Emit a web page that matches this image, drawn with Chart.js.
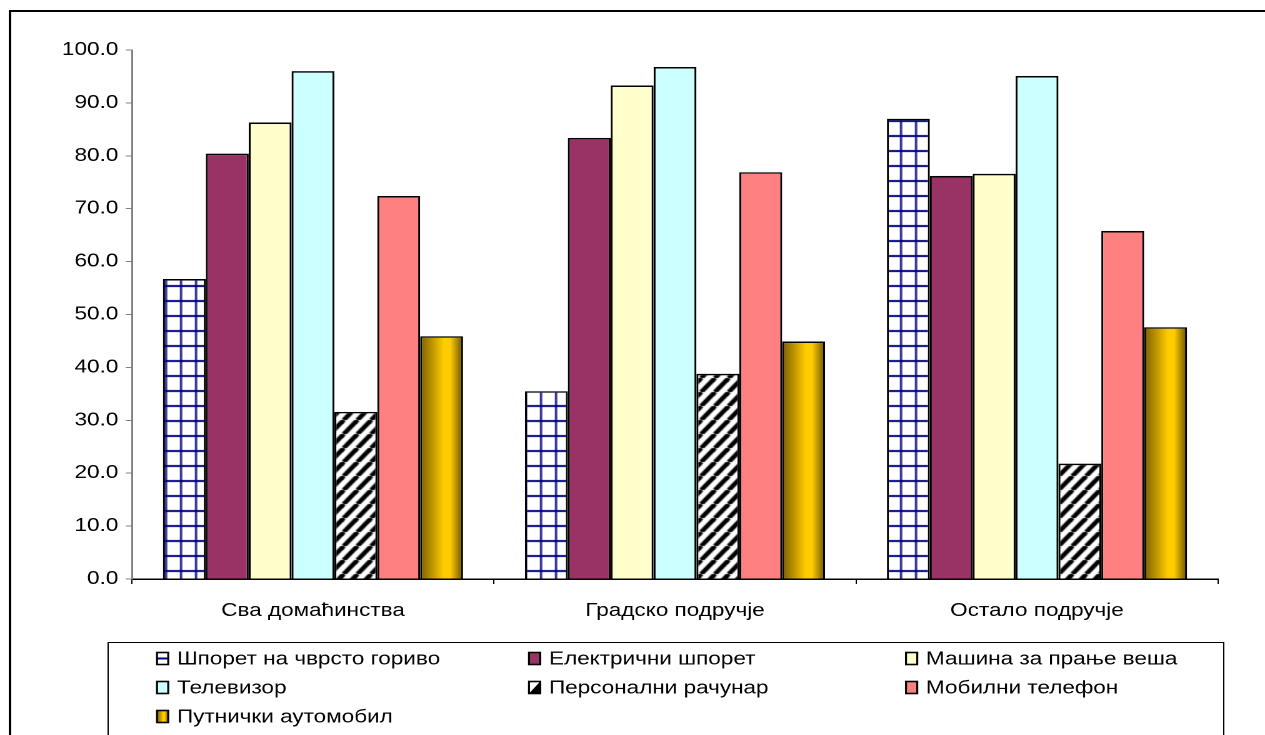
<!DOCTYPE html>
<html>
<head>
<meta charset="utf-8">
<script src="https://cdn.jsdelivr.net/npm/chart.js@4"></script>
<style>
  html, body { margin: 0; padding: 0; background: #fff; overflow: hidden; }
  /* the source picture is stretched sideways, so draw narrow and stretch the same way */
  #wrap { position: absolute; left: 0; top: 0; width: 1012px; height: 735px;
          transform: scaleX(1.25); transform-origin: 0 0; }
</style>
</head>
<body>
<div id="wrap"><canvas id="chart"></canvas></div>
<script>
const categories = ["Сва домаћинства", "Градско подручје", "Остало подручје"]
const seriesNames = [
    "Шпорет на чврсто гориво", "Електрични шпорет", "Машина за прање веша",
    "Телевизор", "Персонални рачунар", "Мобилни телефон", "Путнички аутомобил"
]
const solidFuelStove = [56.7, 35.5, 87.0]
const electricStove = [80.4, 83.4, 76.2]
const washingMachine = [86.3, 93.3, 76.6]
const television = [96.0, 96.8, 95.1]
const personalComputer = [31.6, 38.8, 21.8]
const mobilePhone = [72.4, 76.9, 65.8]
const passengerCar = [45.9, 44.9, 47.6]
const yTicks = [0, 10, 20, 30, 40, 50, 60, 70, 80, 90, 100]

const FONT = "'Liberation Sans', Arial, sans-serif"
const CAT_PCT = 0.829

// grid pattern for the solid fuel stove
const makeChecker = () => {
    const c = document.createElement("canvas")
    c.width = 12; c.height = 15
    const g = c.getContext("2d")
    g.fillStyle = "#fff"; g.fillRect(0, 0, 12, 15)
    g.fillStyle = "#000080"
    g.fillRect(0, 0, 1.6, 15)
    g.fillRect(0, 0, 12, 2)
    return g.createPattern(c, "repeat")
}

// diagonal stripes for the computer
const makeHatch = () => {
    const w = 11, h = 14
    const c = document.createElement("canvas")
    c.width = w; c.height = h
    const g = c.getContext("2d")
    g.fillStyle = "#fff"; g.fillRect(0, 0, w, h)
    g.strokeStyle = "#000"; g.lineWidth = 4
    for (let k = -1; k <= 1; k++) {
        g.beginPath()
        g.moveTo(k * w, h); g.lineTo(k * w + w, 0)
        g.stroke()
    }
    return g.createPattern(c, "repeat")
}

const checker = makeChecker()
const hatch = makeHatch()

const goldStops = (g) => {
    g.addColorStop(0, "#7A5E00")
    g.addColorStop(0.55, "#FFCC00")
    g.addColorStop(0.7, "#FFCC00")
    g.addColorStop(1, "#665000")
    return g
}

// gold bars get a sideways gradient, worked out from the x scale
function goldFill(c) {
    const chart = c.chart
    const xs = chart.scales && chart.scales.x
    if (!xs || !chart.chartArea || c.dataIndex === undefined) return "#FFCC00"
    const groupW = xs.width / categories.length * CAT_PCT
    const barW = groupW / seriesNames.length
    const left = xs.getPixelForValue(c.dataIndex) - groupW / 2 + 6 * barW
    return goldStops(chart.ctx.createLinearGradient(left, 0, left + barW, 0))
}

const seriesData = [solidFuelStove, electricStove, washingMachine, television,
    personalComputer, mobilePhone, passengerCar]
const fills = [checker, "#993366", "#FFFFCC", "#CCFFFF", hatch, "#FF8080", goldFill]

const framePlugin = {
    id: "frame",
    afterDraw(chart) {
        const ctx = chart.ctx
        ctx.save()
        // outer border
        ctx.strokeStyle = "#000"; ctx.lineWidth = 2
        ctx.strokeRect(8, 11, 1100, 800)
        // legend box
        ctx.lineWidth = 1
        ctx.strokeRect(86.5, 642.5, 892.5, 200)
        const colX = [125.6, 423.2, 724.8]
        const rowY = [658.5, 687.5, 716.5]
        ctx.font = "18px " + FONT
        ctx.textBaseline = "middle"
        ctx.textAlign = "left"
        seriesNames.forEach((name, i) => {
            const x = colX[i % 3], y = rowY[Math.floor(i / 3)]
            const mw = 9, mh = 12, mx = x, my = y - mh / 2
            if (i === 0) {
                ctx.fillStyle = "#fff"; ctx.fillRect(mx, my, mw, mh)
                ctx.fillStyle = "#000080"; ctx.fillRect(mx, y - 1, mw, 2)
            } else if (i === 4) {
                ctx.fillStyle = "#fff"; ctx.fillRect(mx, my, mw, mh)
                ctx.fillStyle = "#000"
                ctx.beginPath(); ctx.moveTo(mx, my + mh); ctx.lineTo(mx + mw, my); ctx.lineTo(mx + mw, my + mh); ctx.closePath(); ctx.fill()
            } else if (i === 6) {
                ctx.fillStyle = goldStops(ctx.createLinearGradient(mx, 0, mx + mw, 0))
                ctx.fillRect(mx, my, mw, mh)
            } else {
                ctx.fillStyle = fills[i]; ctx.fillRect(mx, my, mw, mh)
            }
            ctx.strokeStyle = "#000"; ctx.lineWidth = 1.6
            ctx.strokeRect(mx, my, mw, mh)
            ctx.fillStyle = "#000"
            ctx.fillText(name, x + 16, y + 1)
        })
        ctx.restore()
    }
}

new Chart(document.getElementById("chart"), {
    type: "bar",
    data: {
        labels: categories,
        datasets: seriesNames.map((name, i) => ({
            label: name,
            data: seriesData[i],
            backgroundColor: fills[i],
            borderColor: "#000",
            borderWidth: 1.6,
            categoryPercentage: CAT_PCT,
            barPercentage: 1.0
        }))
    },
    options: {
        responsive: true,
        maintainAspectRatio: false,
        animation: false,
        devicePixelRatio: 2,
        layout: { padding: { left: 0, right: 37.6, top: 50, bottom: 0 } },
        plugins: {
            legend: { display: false },
            tooltip: { enabled: false }
        },
        scales: {
            x: {
                afterFit: s => { s.height = 156 },
                grid: { drawOnChartArea: false, drawTicks: true, tickLength: 5, color: "#000", offset: true },
                border: { color: "#000", width: 1.5 },
                ticks: { color: "#000", font: { family: FONT, size: 18 }, padding: 16 }
            },
            y: {
                min: 0,
                max: 100,
                afterFit: s => { s.width = 105.6 },
                afterBuildTicks: s => { s.ticks = yTicks.map(v => ({ value: v })) },
                grid: { drawOnChartArea: false, drawTicks: true, tickLength: 5, color: "#808080" },
                border: { color: "#808080", width: 1.5 },
                ticks: {
                    color: "#000",
                    font: { family: FONT, size: 18 },
                    padding: 6,
                    callback: v => Number(v).toFixed(1)
                }
            }
        }
    },
    plugins: [framePlugin]
})
</script>
</body>
</html>
